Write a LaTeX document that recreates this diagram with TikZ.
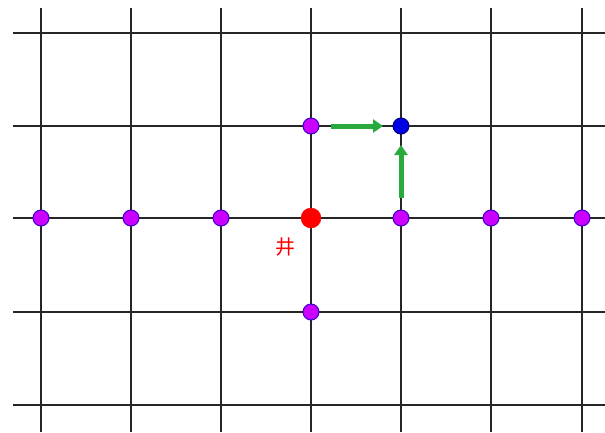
\documentclass[tikz,border=0pt]{standalone}
\usepackage{fontspec}
\newfontfamily\cjk{Noto Sans CJK SC}
\usetikzlibrary{arrows.meta}
\definecolor{dotpurple}{RGB}{204,0,255}
\definecolor{dotedge}{RGB}{60,0,200}
\definecolor{arrgreen}{RGB}{40,170,60}
\begin{document}
\begin{tikzpicture}[x=1pt,y=-1pt,
  gridline/.style={line width=1.6pt,black!85},
  pdot/.style={circle,fill=dotpurple,draw=dotedge,line width=1pt,minimum size=16pt,inner sep=0pt},
  bdot/.style={circle,fill=blue!90!black,draw=blue!50!black,line width=1pt,minimum size=16pt,inner sep=0pt},
  rdot/.style={circle,fill=red,draw=red,minimum size=20pt,inner sep=0pt},
  garrow/.style={line width=5pt,arrgreen,-{Triangle[length=10pt,width=13pt]}}]
\useasboundingbox (0,0) rectangle (605,432);
\fill[white] (0,0) rectangle (605,432);
% grid
\foreach \y in {33,126,218,312,405} \draw[gridline] (13,\y) -- (605,\y);
\foreach \x in {41,131,221,311,401,491,582} \draw[gridline] (\x,8) -- (\x,432);
% dots
\node[pdot] (a) at (41,218) {};
\node[pdot] (b) at (131,218) {};
\node[pdot] (c) at (221,218) {};
\node[rdot] (w) at (311,218) {};
\node[pdot] (e) at (401,218) {};
\node[pdot] (f) at (491,218) {};
\node[pdot] (g) at (582,218) {};
\node[pdot] (u) at (311,126) {};
\node[pdot] (d) at (311,312) {};
\node[bdot] (t) at (401,126) {};
\node[red,font=\cjk\fontsize{20pt}{20pt}\selectfont] (lbl) at (285,247) {井};
% arrows
\draw[garrow] ([xshift=20pt]u.center) -- ([xshift=-18pt]t.center);
\draw[garrow] ([yshift=20pt]e.center) -- ([yshift=-19pt]t.center);
\end{tikzpicture}
\end{document}
